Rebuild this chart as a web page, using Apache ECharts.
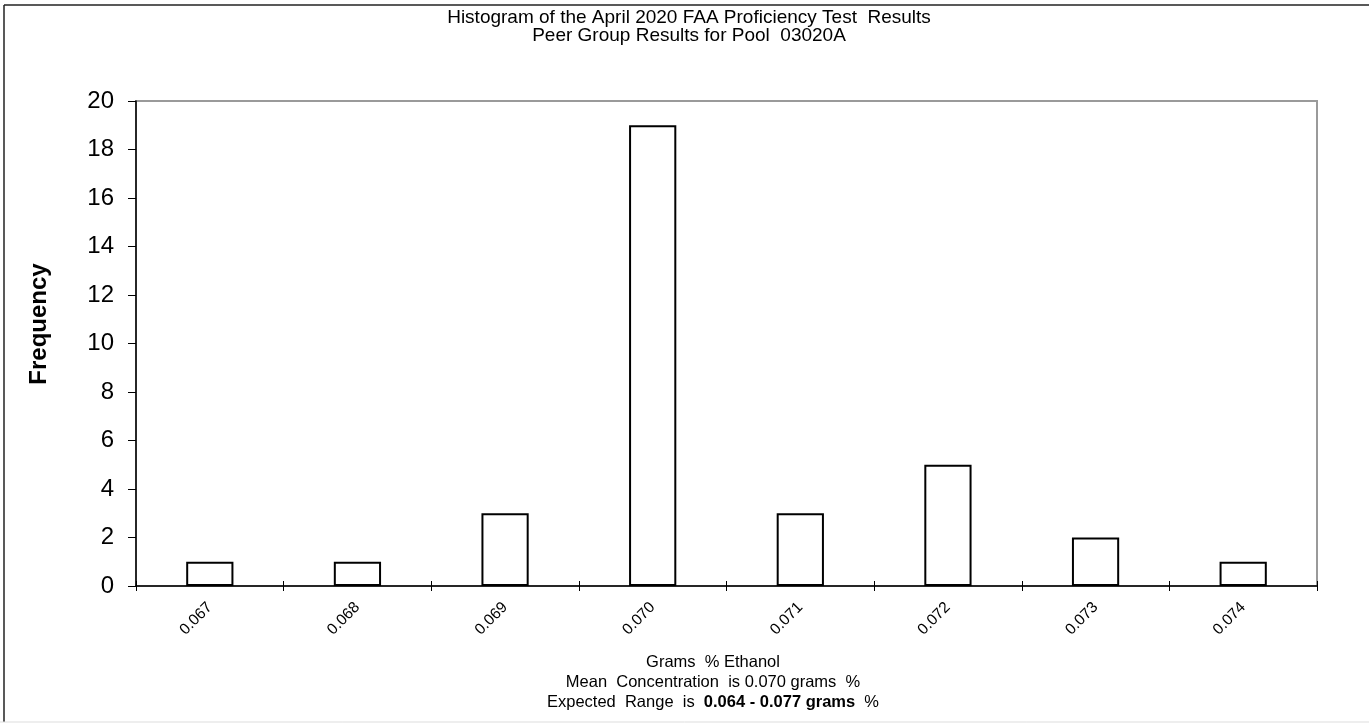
<!DOCTYPE html>
<html>
<head>
<meta charset="utf-8">
<script src="https://cdn.jsdelivr.net/npm/echarts@6/dist/echarts.min.js"></script>
<style>
html,body{margin:0;padding:0;background:#fff;}
#chart{width:1369px;height:723px;}
</style>
</head>
<body>
<div id="chart"></div>
<script>
var categories = ['0.067','0.068','0.069','0.070','0.071','0.072','0.073','0.074'];
var frequency = [1, 1, 3, 19, 3, 5, 2, 1];
var yMin = 0, yMax = 20, yStep = 2;
var titleLines = ['Histogram of the April 2020 FAA Proficiency Test  Results', 'Peer Group Results for Pool  03020A'];
var footLines = ['Grams  % Ethanol', 'Mean  Concentration  is 0.070 grams  %'];
var rangeText = ['Expected  Range  is  ', '0.064 - 0.077 grams', '  %'];
var yTitle = 'Frequency';

var FONT = '"Liberation Sans", Arial, sans-serif';
var chart = echarts.init(document.getElementById('chart'));
chart.setOption({
  backgroundColor: '#fff',
  animation: false,
  textStyle: {fontFamily: FONT},
  grid: {left: 136, right: 52, top: 101, bottom: 137, show: true, borderColor: '#9a9a9a', borderWidth: 2, backgroundColor: 'transparent'},
  title: {
    text: titleLines.join('\n'),
    left: 684, top: 4, textAlign: 'center',
    textStyle: {fontFamily: FONT, fontSize: 19, fontWeight: 'normal', color: '#000', lineHeight: 18}
  },
  xAxis: [{
    type: 'category', data: categories, position: 'bottom',
    axisLine: {lineStyle: {color: '#000', width: 1.5}},
    axisTick: {show: true, inside: false, length: 5, lineStyle: {color: '#000', width: 1}},
    axisLabel: {rotate: 45, fontSize: 15.5, color: '#000', margin: 19, fontFamily: FONT},
    splitLine: {show: false}
  }, {
    type: 'category', data: categories, position: 'bottom',
    axisLine: {show: false},
    axisTick: {show: true, inside: true, length: 5, lineStyle: {color: '#000', width: 1}},
    axisLabel: {show: false},
    splitLine: {show: false}
  }],
  yAxis: {
    type: 'value', min: yMin, max: yMax, interval: yStep,
    axisLine: {show: true, lineStyle: {color: '#000', width: 1.5}},
    axisTick: {show: true, inside: false, length: 8, lineStyle: {color: '#000'}},
    axisLabel: {fontSize: 24, color: '#000', margin: 22, fontFamily: FONT},
    splitLine: {show: false}
  },
  series: [{
    type: 'bar', data: frequency, barWidth: '32%', xAxisIndex: 0,
    itemStyle: {color: '#fff', borderColor: '#000', borderWidth: 2},
    silent: true
  }],
  graphic: [
    {type: 'line', shape: {x1: 4, y1: 5, x2: 1369, y2: 5}, style: {stroke: '#222', lineWidth: 1.5}},
    {type: 'line', shape: {x1: 4, y1: 5, x2: 4, y2: 722}, style: {stroke: '#222', lineWidth: 1.5}},
    {type: 'line', shape: {x1: 0, y1: 722, x2: 1369, y2: 722}, style: {stroke: '#ddd', lineWidth: 1}},
    {type: 'text', x: 39, y: 324, rotation: Math.PI / 2,
      style: {text: yTitle, font: 'bold 24px ' + FONT, fill: '#000', textAlign: 'center', textVerticalAlign: 'middle'}},
    {type: 'text', x: 713, y: 662,
      style: {text: footLines[0], font: '16.5px ' + FONT, fill: '#000', textAlign: 'center', textVerticalAlign: 'middle'}},
    {type: 'text', x: 713, y: 682,
      style: {text: footLines[1], font: '16.5px ' + FONT, fill: '#000', textAlign: 'center', textVerticalAlign: 'middle'}},
    {type: 'text', x: 713, y: 702,
      style: {
        text: '{n|' + rangeText[0] + '}{b|' + rangeText[1] + '}{n|' + rangeText[2] + '}',
        textAlign: 'center', textVerticalAlign: 'middle',
        rich: {
          n: {fontFamily: FONT, fontSize: 16.5, color: '#000'},
          b: {fontFamily: FONT, fontSize: 16.5, fontWeight: 'bold', color: '#000'}
        }
      }}
  ]
});
</script>
</body>
</html>
